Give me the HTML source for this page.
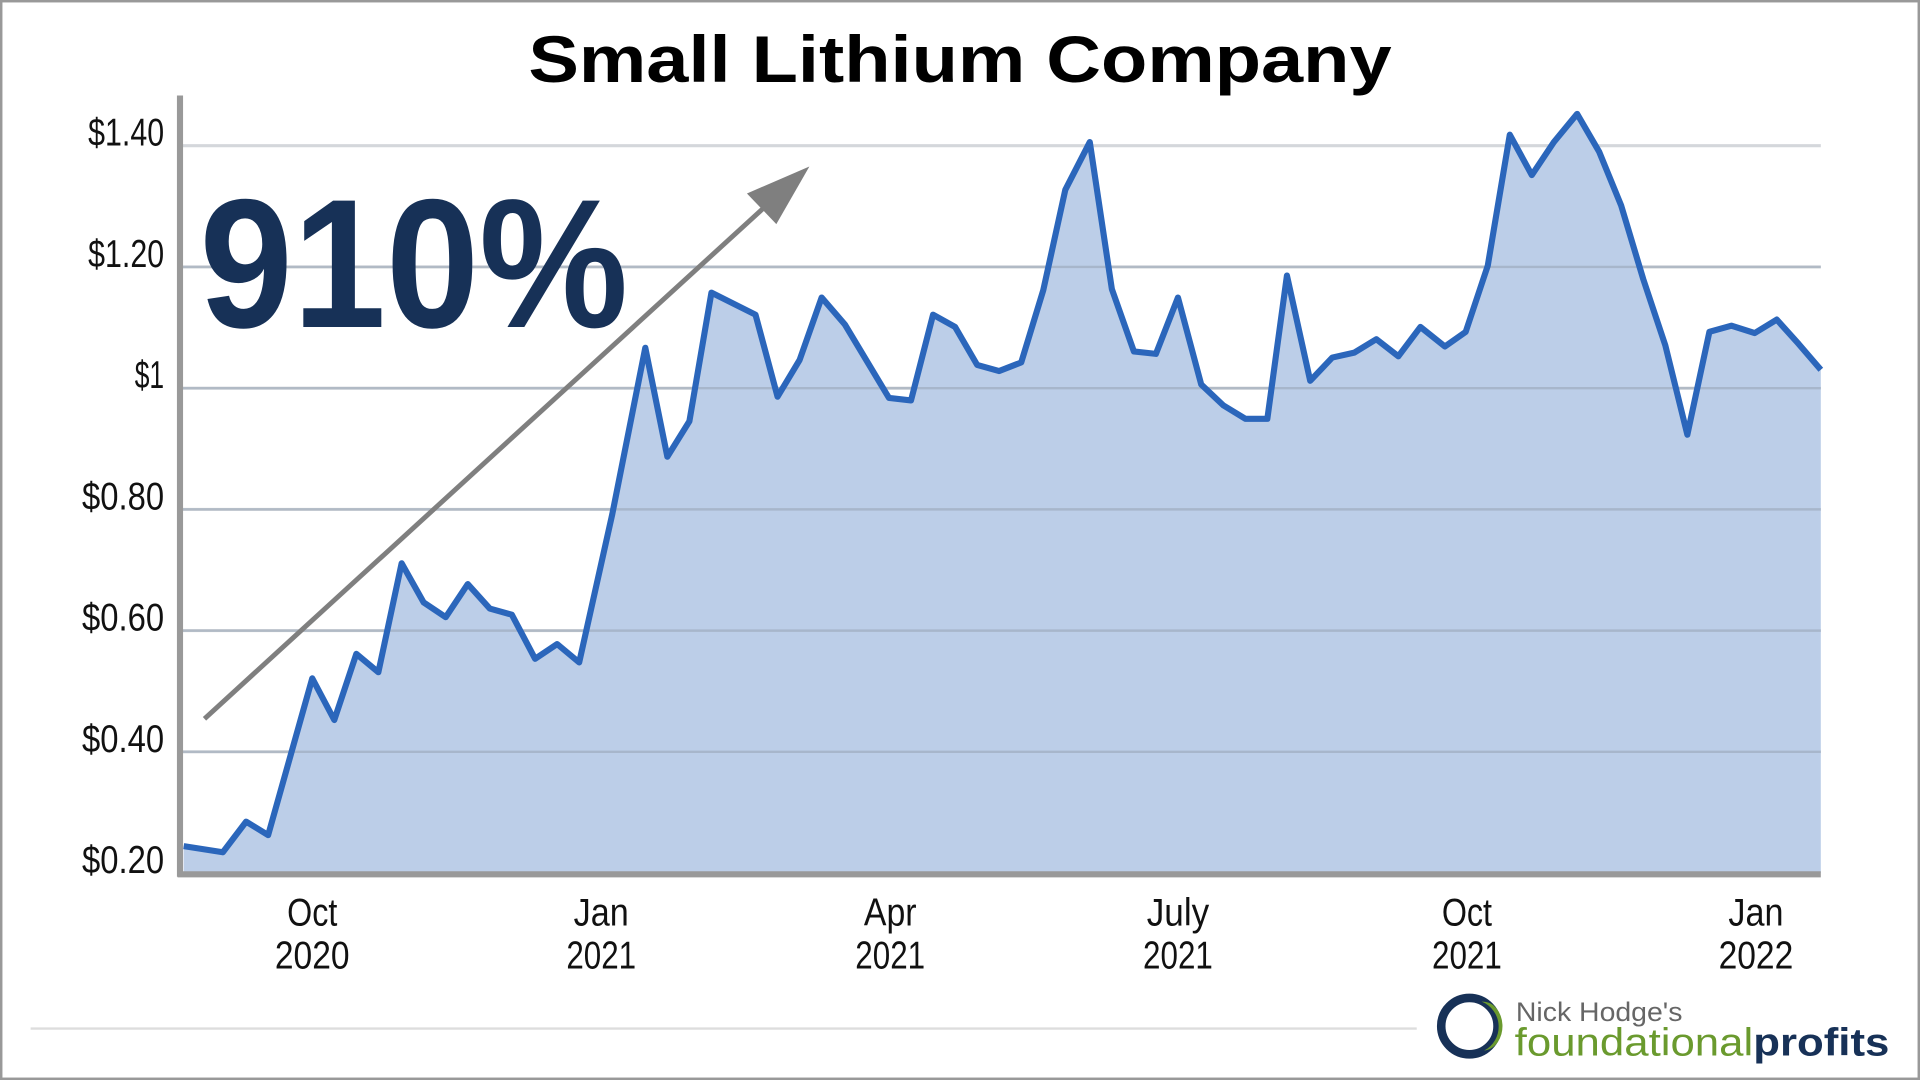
<!DOCTYPE html>
<html><head><meta charset="utf-8"><style>
html,body{margin:0;padding:0;background:#fff;width:1920px;height:1080px;overflow:hidden}
svg{display:block}
text{font-family:"Liberation Sans",sans-serif}
.yl{font-size:32px;fill:#111;text-anchor:end}
.xl{font-size:32px;fill:#111;text-anchor:middle}
</style></head><body>
<svg width="1920" height="1080" viewBox="0 0 1568 882">
<rect x="1" y="1" width="1566" height="880" fill="#fff" stroke="#999" stroke-width="2"/>
<text x="784" y="67" text-anchor="middle" font-size="54" font-weight="bold" fill="#000" textLength="705" lengthAdjust="spacingAndGlyphs">Small Lithium Company</text>
<g stroke="#d4d7db" stroke-width="2.5">
<line x1="149" x2="1487" y1="119" y2="119"/><line x1="149" x2="1487" y1="218" y2="218"/><line x1="149" x2="1487" y1="317" y2="317"/><line x1="149" x2="1487" y1="416" y2="416"/><line x1="149" x2="1487" y1="515" y2="515"/><line x1="149" x2="1487" y1="614" y2="614"/>
</g>
<path d="M150,691 L182,696 L201,671 L219,682 L255,554 L273,588 L291,534 L309,549 L328,460 L346,492 L364,504 L382,477 L400,497 L418,502 L437,538 L455,526 L473,541 L500,420 L527,284 L545,373 L563,344 L581,239 L617,257 L635,324 L653,294 L671,243 L690,265 L726,325 L744,327 L762,257 L780,267 L798,298 L816,303 L834,296 L852,237 L870,155 L890,116 L908,236 L926,287 L944,289 L962,243 L981,314 L999,331 L1017,342 L1035,342 L1051,225 L1070,311 L1088,292 L1106,288 L1124,277 L1142,291 L1160,267 L1180,283 L1197,271 L1215,217 L1233,110 L1251,143 L1269,116 L1288,93 L1306,124 L1324,168 L1342,228 L1360,282 L1378,355 L1396,271 L1414,266 L1433,272 L1451,261 L1469,281 L1487,302 L1487,713 L150,713 Z" fill="#bccee8"/>
<g stroke="#9aa7b8" stroke-width="2" opacity="0.6">
<line x1="149" x2="1487" y1="317" y2="317"/><line x1="149" x2="1487" y1="416" y2="416"/><line x1="149" x2="1487" y1="515" y2="515"/><line x1="149" x2="1487" y1="614" y2="614"/><line x1="149" x2="1487" y1="218" y2="218"/>
</g>
<path d="M150,691 L182,696 L201,671 L219,682 L255,554 L273,588 L291,534 L309,549 L328,460 L346,492 L364,504 L382,477 L400,497 L418,502 L437,538 L455,526 L473,541 L500,420 L527,284 L545,373 L563,344 L581,239 L617,257 L635,324 L653,294 L671,243 L690,265 L726,325 L744,327 L762,257 L780,267 L798,298 L816,303 L834,296 L852,237 L870,155 L890,116 L908,236 L926,287 L944,289 L962,243 L981,314 L999,331 L1017,342 L1035,342 L1051,225 L1070,311 L1088,292 L1106,288 L1124,277 L1142,291 L1160,267 L1180,283 L1197,271 L1215,217 L1233,110 L1251,143 L1269,116 L1288,93 L1306,124 L1324,168 L1342,228 L1360,282 L1378,355 L1396,271 L1414,266 L1433,272 L1451,261 L1469,281 L1487,302" fill="none" stroke="#2b66bb" stroke-width="5" stroke-linejoin="round"/>
<line x1="147" y1="78" x2="147" y2="716" stroke="#999" stroke-width="5"/>
<line x1="145" y1="714" x2="1487" y2="714" stroke="#999" stroke-width="5"/>
<text class="yl" x="134" y="119" textLength="62" lengthAdjust="spacingAndGlyphs">$1.40</text>
<text class="yl" x="134" y="218" textLength="62" lengthAdjust="spacingAndGlyphs">$1.20</text>
<text class="yl" x="134" y="317" textLength="24" lengthAdjust="spacingAndGlyphs">$1</text>
<text class="yl" x="134" y="416" textLength="67" lengthAdjust="spacingAndGlyphs">$0.80</text>
<text class="yl" x="134" y="515" textLength="67" lengthAdjust="spacingAndGlyphs">$0.60</text>
<text class="yl" x="134" y="614" textLength="67" lengthAdjust="spacingAndGlyphs">$0.40</text>
<text class="yl" x="134" y="713" textLength="67" lengthAdjust="spacingAndGlyphs">$0.20</text>
<text class="xl" x="255" y="756" textLength="41" lengthAdjust="spacingAndGlyphs">Oct</text><text class="xl" x="255" y="791" textLength="61" lengthAdjust="spacingAndGlyphs">2020</text>
<text class="xl" x="491" y="756" textLength="45" lengthAdjust="spacingAndGlyphs">Jan</text><text class="xl" x="491" y="791" textLength="57" lengthAdjust="spacingAndGlyphs">2021</text>
<text class="xl" x="727" y="756" textLength="43" lengthAdjust="spacingAndGlyphs">Apr</text><text class="xl" x="727" y="791" textLength="57" lengthAdjust="spacingAndGlyphs">2021</text>
<text class="xl" x="962" y="756" textLength="51" lengthAdjust="spacingAndGlyphs">July</text><text class="xl" x="962" y="791" textLength="57" lengthAdjust="spacingAndGlyphs">2021</text>
<text class="xl" x="1198" y="756" textLength="41" lengthAdjust="spacingAndGlyphs">Oct</text><text class="xl" x="1198" y="791" textLength="57" lengthAdjust="spacingAndGlyphs">2021</text>
<text class="xl" x="1434" y="756" textLength="45" lengthAdjust="spacingAndGlyphs">Jan</text><text class="xl" x="1434" y="791" textLength="61" lengthAdjust="spacingAndGlyphs">2022</text>
<line x1="167" y1="587" x2="630" y2="164" stroke="#7f7f7f" stroke-width="4"/>
<polygon points="661,136 610,158 634,183" fill="#7f7f7f"/>
<text x="163" y="267" font-size="150" font-weight="bold" fill="#173157" textLength="350" lengthAdjust="spacingAndGlyphs">910%</text>
<line x1="25" y1="840" x2="1157" y2="840" stroke="#ddd" stroke-width="2"/>
<circle cx="1200" cy="838" r="23" fill="none" stroke="#173157" stroke-width="7"/>
<path d="M1210,818 A22,22 0 0 1 1212,858 A16,20 0 0 0 1210,818Z" fill="#6a9a2e"/>
<text x="1238" y="834" font-size="22" fill="#666" textLength="136" lengthAdjust="spacingAndGlyphs">Nick Hodge's</text>
<text x="1237" y="862" font-size="32" fill="#6a9a2e" textLength="306" lengthAdjust="spacingAndGlyphs">foundational<tspan fill="#173157" font-weight="bold">profits</tspan></text>
</svg>
</body></html>
